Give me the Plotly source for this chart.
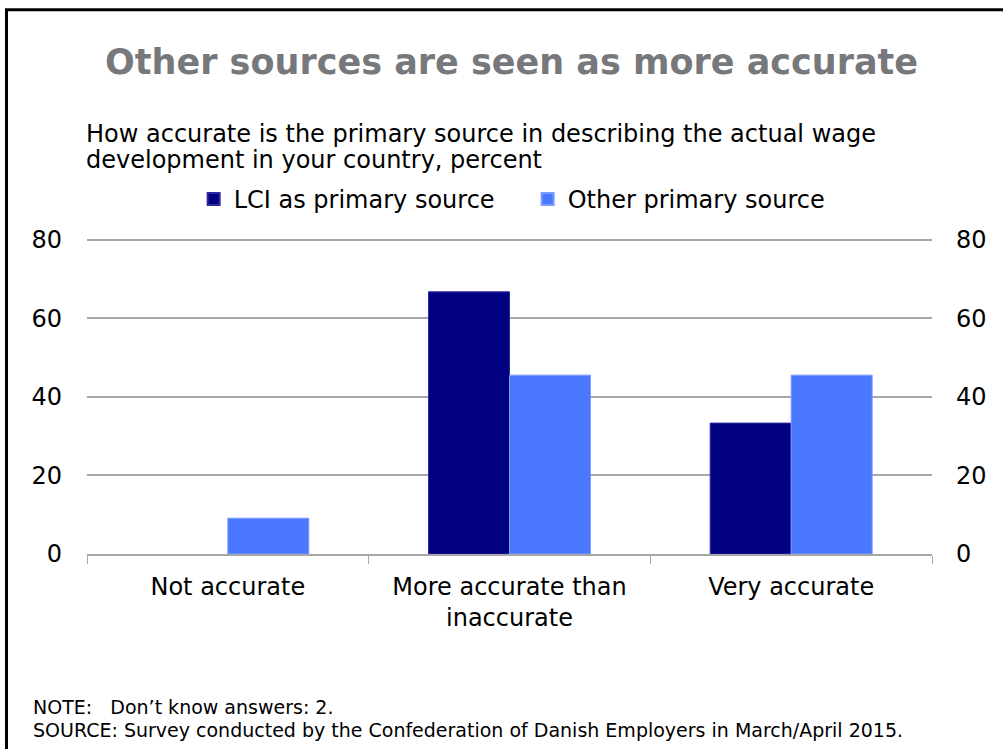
import plotly.graph_objects as go

categories = ["Not accurate", "More accurate than<br>inaccurate", "Very accurate"]
lci_values = [0, 66.7, 33.3]
other_values = [9.1, 45.5, 45.5]
series_names = ["LCI as primary source", "Other primary source"]
y_ticks = [0, 20, 40, 60, 80]

W, H = 1003, 749
L, R, T, B = 87, 932, 240, 554
YMAX = 80.4
T_ADJ = B - (B - T) * YMAX / 80.0
FONT = "DejaVu Sans"

def px(x):
    return (x - L) / (R - L)

def py(y):
    return (B - y) / (B - T_ADJ)

fig = go.Figure()
fig.add_trace(go.Bar(x=categories, y=lci_values, name=series_names[0],
                     marker=dict(color="#000080",
                                 line=dict(color="#2a2aa0", width=[0 if v == 0 else 1 for v in lci_values]))))
fig.add_trace(go.Bar(x=categories, y=other_values, name=series_names[1],
                     marker=dict(color="#4A78FF",
                                 line=dict(color="#7a9cff", width=[0 if v == 0 else 1 for v in other_values]))))
fig.add_trace(go.Scatter(x=categories, y=lci_values, yaxis="y2", mode="markers",
                         marker=dict(opacity=0), showlegend=False, hoverinfo="skip"))

fig.update_layout(
    width=W, height=H,
    margin=dict(l=L, r=W - R, t=T_ADJ, b=H - B),
    paper_bgcolor="white", plot_bgcolor="white",
    barmode="group", bargap=0.425, bargroupgap=0,
    font=dict(family=FONT, color="black", size=24),
    showlegend=True,
    legend=dict(orientation="h", x=0.5215, xanchor="center", y=py(200), yanchor="middle",
                font=dict(size=24, family=FONT), itemsizing="constant",
                traceorder="normal", bgcolor="rgba(0,0,0,0)", itemwidth=30,
                entrywidth=289, entrywidthmode="pixels"),
    xaxis=dict(showgrid=False, showline=True, linecolor="#a6a6a6", linewidth=1.5,
               ticks="outside", tickson="boundaries", ticklen=8, tickcolor="#a6a6a6",
               tickfont=dict(size=24, family=FONT), zeroline=False, ticklabelstandoff=10),
    yaxis=dict(range=[0, YMAX], tickvals=y_ticks, showgrid=True, gridcolor="#a6a6a6",
               gridwidth=1.5, zeroline=False, showline=False, ticks="",
               tickfont=dict(size=24, family=FONT), ticklabelstandoff=24),
    yaxis2=dict(range=[0, YMAX], tickvals=y_ticks, overlaying="y", side="right",
                showgrid=False, zeroline=False, showline=False, ticks="",
                tickfont=dict(size=24, family=FONT), ticklabelstandoff=23),
)

fig.add_annotation(text="<b>Other sources are seen as more accurate</b>",
                   x=px(511), y=py(63), xref="paper", yref="paper",
                   xanchor="center", yanchor="middle", showarrow=False,
                   font=dict(size=35, color="#77787B", family=FONT))
subtitle_lines = ["How accurate is the primary source in describing the actual wage",
                  "development in your country, percent"]
for i, line in enumerate(subtitle_lines):
    fig.add_annotation(text=line, x=px(84), y=py(135 + 26 * i), xref="paper", yref="paper",
                       xanchor="left", yanchor="middle", align="left", showarrow=False,
                       font=dict(size=24, color="black", family=FONT))
note_lines = ["NOTE:   Don\u2019t know answers: 2.",
              "SOURCE: Survey conducted by the Confederation of Danish Employers in March/April 2015."]
for i, line in enumerate(note_lines):
    fig.add_annotation(text=line, x=px(31), y=py(707 + 23 * i), xref="paper", yref="paper",
                       xanchor="left", yanchor="middle", align="left", showarrow=False,
                       font=dict(size=19, color="black", family=FONT))

fig.add_shape(type="rect", xref="paper", yref="paper",
              x0=px(6.5), y0=py(10.5), x1=px(1100), y1=py(900),
              line=dict(color="black", width=3), fillcolor="rgba(0,0,0,0)", layer="below")

fig.write_html("out.html", config={"displayModeBar": False},
               post_script="document.body.style.margin='0';document.body.style.overflow='hidden';")
